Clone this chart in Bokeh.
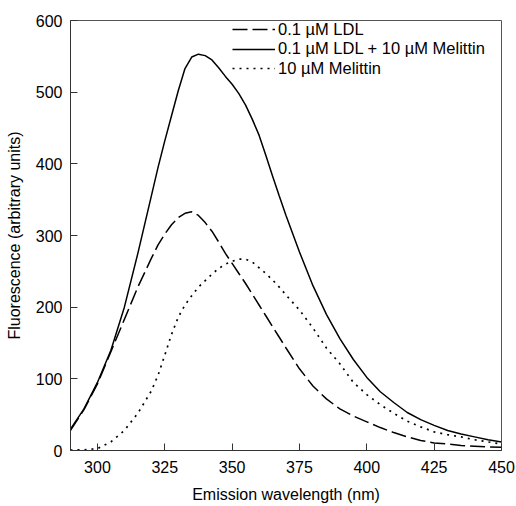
from bokeh.plotting import figure
from bokeh.models import Legend, LegendItem, ColumnDataSource, FixedTicker, Range1d
from bokeh.embed import file_html
from bokeh.resources import INLINE

wavelength = [290, 295, 300, 305, 310, 315, 320, 322.5, 325, 327.5, 330, 332.5,
              335, 337.5, 340, 342.5, 345, 347.5, 350, 352.5, 355, 357.5, 360,
              362.5, 365, 367.5, 370, 375, 380, 385, 390, 395, 400, 405, 410,
              415, 420, 425, 430, 435, 440, 445, 450]

ldl = [28, 57, 93, 138, 183, 228, 268, 287, 302, 315, 325, 331,
       333, 328, 318, 306, 291, 275, 261, 247, 233, 218, 203,
       188, 173, 158, 143, 114, 90, 72, 58, 48, 40, 32, 25,
       19, 14, 10.5, 9, 7, 6, 5, 4.5]

ldl_mel = [30, 58, 95, 140, 200, 275, 355, 395, 432, 467, 502, 533,
           549, 553, 551, 545, 534, 522, 511, 498, 482, 462, 440,
           412, 383, 355, 328, 277, 230, 190, 156, 127, 102, 82, 67,
           53, 43, 35, 28, 23, 19, 15, 12]

mel = [0.5, 1, 2.5, 12, 28, 52, 83, 105, 133, 162, 186, 203,
       216, 228, 237, 246, 254, 260, 264, 267, 267, 263, 255,
       247, 238, 228, 217, 196, 171, 143, 121, 95, 78, 64, 52,
       41, 33, 26, 22, 19, 15, 12, 9]

labels = ["0.1 \u00b5M LDL", "0.1 \u00b5M LDL + 10 \u00b5M Melittin", "10 \u00b5M Melittin"]
x_ticks = [300, 325, 350, 375, 400, 425, 450]
y_ticks = [0, 100, 200, 300, 400, 500, 600]

src = ColumnDataSource(dict(x=wavelength, ldl=ldl, ldl_mel=ldl_mel, mel=mel))

p = figure(width=516, height=506, output_backend="svg", toolbar_location=None,
           x_range=Range1d(290, 450), y_range=Range1d(0, 600),
           min_border_left=70, min_border_right=15, min_border_top=20,
           min_border_bottom=56)

FONT = "Liberation Sans"

r1 = p.line("x", "ldl", source=src, line_color="black", line_width=1.5, line_dash="15 5")
r2 = p.line("x", "ldl_mel", source=src, line_color="black", line_width=1.5)
r3 = p.line("x", "mel", source=src, line_color="black", line_width=1.7, line_dash="2 5")

for ax in (p.xaxis[0], p.yaxis[0]):
    ax.major_tick_in = 7
    ax.major_tick_out = 0
    ax.minor_tick_line_color = None
    ax.axis_line_color = "#333333"
    ax.major_tick_line_color = "#333333"
    ax.major_label_text_font = FONT
    ax.major_label_text_font_size = "16px"
    ax.major_label_text_color = "black"
    ax.axis_label_text_font = FONT
    ax.axis_label_text_font_size = "16px"
    ax.axis_label_text_font_style = "normal"
    ax.axis_label_text_color = "black"

p.xaxis.ticker = FixedTicker(ticks=x_ticks)
p.yaxis.ticker = FixedTicker(ticks=y_ticks)
p.xaxis.axis_label = "Emission wavelength (nm)"
p.yaxis.axis_label = "Fluorescence (arbitrary units)"
p.xaxis.major_label_standoff = 10
p.xaxis.axis_label_standoff = 10
p.yaxis.major_label_standoff = 8
p.yaxis.axis_label_standoff = 10

p.xgrid.grid_line_color = None
p.ygrid.grid_line_color = None
p.outline_line_color = "#555555"
p.outline_line_width = 1

# one legend per row so that rows sit close together as in the original
row_bottoms = [411.5, 392, 372.5]
for lab, rend, yb in zip(labels, [r1, r2, r3], row_bottoms):
    lg = Legend(items=[LegendItem(label=lab, renderers=[rend])], location=(162, yb))
    lg.border_line_color = None
    lg.background_fill_alpha = 0
    lg.label_text_font = FONT
    lg.label_text_font_size = "16.5px"
    lg.label_text_color = "black"
    lg.glyph_width = 43
    lg.glyph_height = 14
    lg.label_height = 14
    lg.label_standoff = 3
    lg.spacing = 0
    lg.padding = 0
    lg.margin = 0
    p.add_layout(lg)

open("out.html", "w").write(file_html(p, INLINE))
